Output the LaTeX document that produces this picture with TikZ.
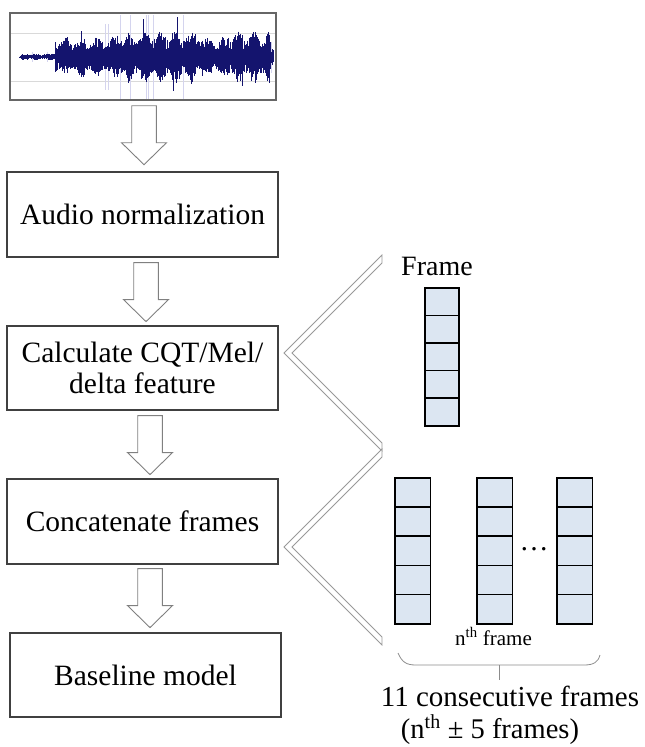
\documentclass[tikz,border=0pt]{standalone}
\usepackage{fontspec}
\setmainfont{LiberationSerif}[Extension=.ttf,UprightFont=*-Regular,BoldFont=*-Bold,ItalicFont=*-Italic,BoldItalicFont=*-BoldItalic]
\usetikzlibrary{calc}
\definecolor{cellblue}{HTML}{DCE6F2}
\definecolor{navywave}{HTML}{14146E}
\definecolor{lightwave}{HTML}{D4D4EE}
\begin{document}
\begin{tikzpicture}[x=1pt,y=-1pt,
  stepbox/.style={draw=black!75,line width=1.2pt,minimum width=271,minimum height=85,inner sep=0,align=center,font=\fontsize{29.5}{31}\selectfont},
  arrowline/.style={draw=black!50,line width=0.9pt,fill=white,line join=miter},
  chev/.style={draw=black!40,line width=0.8pt,fill=white,line join=miter},
  cell/.style={draw=black,line width=1.5pt,fill=cellblue,inner sep=0,anchor=north west},
  bracel/.style={draw=black!45,line width=0.8pt},
  blockarr/.pic={\draw[arrowline] (-12.3,0)--(-12.3,37)--(-22.5,37)--(0,59)--(22.5,37)--(12.3,37)--(12.3,0)--cycle;}
]
\useasboundingbox (0,0) rectangle (645,747);

% waveform panel
\node[draw=black!60,line width=1.4pt,minimum width=266,minimum height=87,inner sep=0] (wave) at (143,56.5) {};
\draw[black!15,line width=0.6pt] (11,33) -- (275,33) (11,81) -- (275,81);
\pgfmathsetseed{7}
\foreach \i in {0,...,507} {
  \pgfmathsetmacro\xx{19.5+\i*0.5}
  \pgfmathsetmacro\env{\xx<55 ? (\xx<21 ? 1 : 3.5) : (\xx<117 ? 21 : (\xx<200 ? 27 : (\xx<228 ? 20 : (\xx<270 ? 27 : 10))))}
  \pgfmathsetmacro\md{0.8+0.2*sin(\xx*23)}
  \pgfmathsetmacro\sp{rnd<0.04 ? 1.5 : 1}
  \pgfmathsetmacro\up{min(\env*\md*\sp*(0.4+0.6*rnd),42)}
  \pgfmathsetmacro\dn{min(\env*\md*\sp*(0.4+0.6*rnd),42)}
  \pgfmathsetmacro\lt{rnd<0.02 ? 1.55 : 0}
  \pgfmathsetmacro\la{min(\env*\lt,42)}
  \draw[lightwave,line width=0.5pt] (\xx,{57-\la}) -- (\xx,{57+\la});
  \draw[navywave,line width=0.7pt] (\xx,{57-\up}) -- (\xx,{57+\dn});
}

% process boxes
\node[stepbox] (audio) at (142.5,214.5) {Audio normalization};
\node[stepbox,minimum height=84] (calc) at (142.5,368) {Calculate CQT/Mel/\\delta feature};
\node[stepbox] (concat) at (142.5,521.5) {Concatenate frames};
\node[stepbox,minimum height=84] (base) at (145.5,675) {Baseline model};

% block arrows
\pic at ($(wave.south)+(1,5)$) {blockarr};
\pic at ($(audio.south)+(3.5,5)$) {blockarr};
\pic at ($(calc.south)+(7.5,5)$) {blockarr};
\pic at ($(concat.south)+(7.5,4)$) {blockarr};

% chevrons
\draw[chev] (382,255) -- (284,353) -- (382,451) -- (382,443) -- (292,353) -- (382,263) -- cycle;
\draw[chev] (382,449) -- (284,547) -- (382,645) -- (382,637) -- (292,547) -- (382,457) -- cycle;

% single frame
\node[anchor=base,font=\fontsize{28}{30}\selectfont] (frlabel) at (437,275) {Frame};
\foreach \k in {0,...,4} {
  \node[cell,minimum width=34,minimum height=27.6] (s\k) at (424,{287+\k*27.6}) {};
}

% concatenated frames
\foreach \c/\x in {a/394,b/476,c/556} {
  \foreach \k in {0,...,4} {
    \node[cell,minimum width=35.5,minimum height=29.2] (\c\k) at (\x,{477+\k*29.2}) {};
  }
}
\node[anchor=base,font=\fontsize{29}{30}\selectfont,inner sep=0] (dots) at (534,550) {…};
\node[anchor=base,font=\fontsize{21}{23}\selectfont,inner sep=0] (nth) at (493.5,645) {n\textsuperscript{th} frame};

% brace
\draw[bracel] (398,653) .. controls (402,662) and (406,665) .. (416,665) -- (584,665) .. controls (594,665) and (598,662) .. (600,655);
\coordinate (bmid) at (499,665);
\coordinate (btip) at (499,680);
\draw[bracel] (bmid) -- (btip);

\node[anchor=base,font=\fontsize{29}{30}\selectfont,inner sep=0] (cons) at (510,706) {11 consecutive frames};
\node[anchor=base,font=\fontsize{28.5}{30}\selectfont,inner sep=0] (pm) at (490,738) {(n\textsuperscript{th} ± 5 frames)};
\end{tikzpicture}
\end{document}
